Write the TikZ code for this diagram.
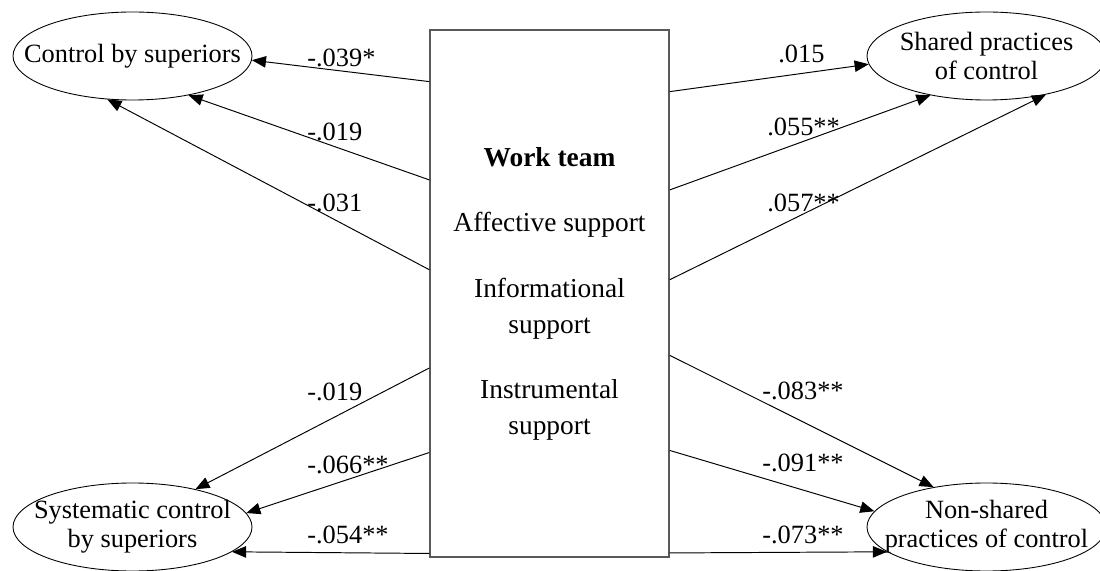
\documentclass[tikz,border=0pt]{standalone}
\usepackage{fontspec}
\setmainfont{Liberation Serif}
\usetikzlibrary{positioning,calc,shapes.geometric,arrows.meta}
\tikzset{
  construct/.style={draw,ellipse,line width=0.5pt,minimum width=4.78cm,
        minimum height=1.76cm,inner xsep=-0.5cm,inner ysep=0pt,align=center,
        font=\fontsize{15}{16.5}\selectfont},
  coef/.style={line width=0.55pt,-{Triangle[length=8pt,width=6.5pt]}},
  coeflab/.style={anchor=west,inner sep=0pt},
}
% one path: side of the team box, fraction down that side, target anchor,
% label name, label position, label text
\newcommand{\coefarrow}[6]{%
  \draw[coef] ($(team.north #1)!#2!(team.south #1)$) -- (#3);
  \node[coeflab] (#4) at (#5) {#6};
}

\begin{document}
\begin{tikzpicture}[font=\fontsize{15}{18}\selectfont]
  \useasboundingbox (0,0) rectangle (22,11.4);

  \node[draw=black!65,line width=0.8pt,minimum width=4.78cm,minimum height=10.54cm,
        align=center,font=\fontsize{15.6}{20.5}\selectfont] (team) at (10.99,5.53)
        {\textbf{Work team}\\[17pt]Affective support\\[16.5pt]Informational\\support\\[16.5pt]Instrumental\\support};

  \node[construct] (ctrl)   at (2.65,10.28)  {Control by superiors};
  \node[construct] (shared) at (19.73,10.28) {Shared practices\\of control};
  \node[construct] (syst)   at (2.65,0.86)   {Systematic control\\by superiors};
  \node[construct] (nonsh)  at (19.73,0.86)  {Non-shared\\practices of control};

  \coefarrow{west}{.099}{ctrl.-2}{c1}{6.14,10.24}{-.039*}
  \coefarrow{west}{.285}{ctrl.-35}{c2}{6.14,8.76}{-.019}
  \coefarrow{west}{.455}{ctrl.-120}{c3}{6.14,7.34}{-.031}
  \coefarrow{east}{.118}{shared.184}{c4}{15.56,10.33}{.015}
  \coefarrow{east}{.304}{shared.215}{c5}{15.34,8.86}{.055**}
  \coefarrow{east}{.474}{shared.-33}{c6}{15.34,7.34}{.057**}
  \coefarrow{west}{.641}{syst.31}{c7}{6.14,3.56}{-.019}
  \coefarrow{west}{.801}{syst.7}{c8}{6.14,2.1}{-.066**}
  \coefarrow{west}{.992}{syst.-14.5}{c9}{6.14,0.7}{-.054**}
  \coefarrow{east}{.617}{nonsh.143}{c10}{15.24,3.58}{-.083**}
  \coefarrow{east}{.797}{nonsh.172}{c11}{15.24,2.14}{-.091**}
  \coefarrow{east}{.991}{nonsh.194}{c12}{15.24,0.7}{-.073**}
\end{tikzpicture}
\end{document}
